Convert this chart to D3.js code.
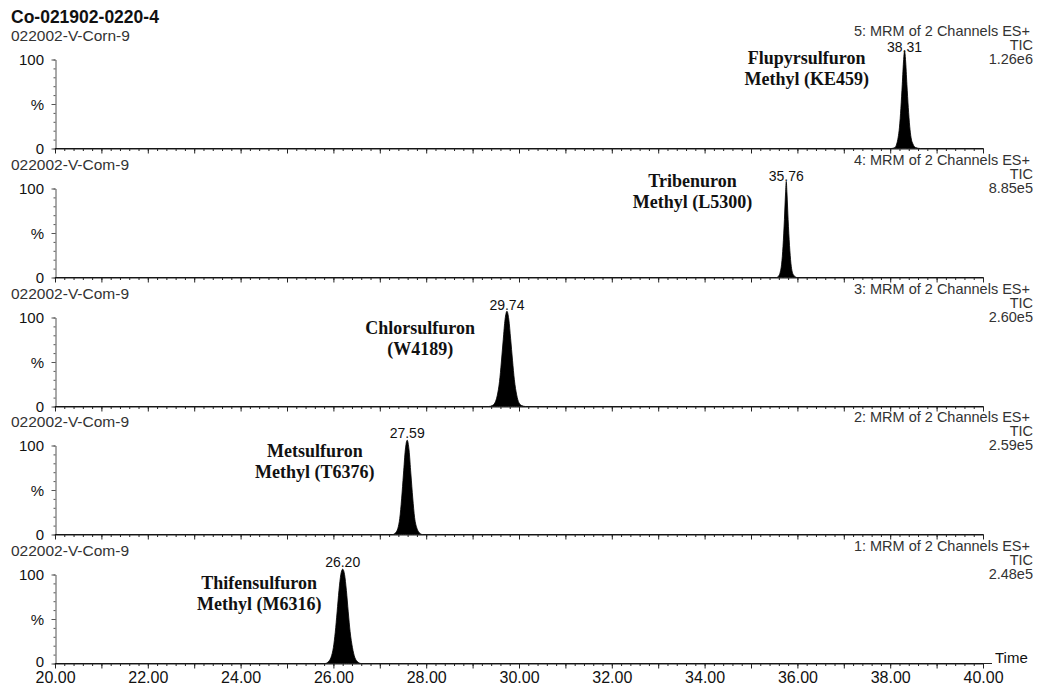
<!DOCTYPE html>
<html>
<head>
<meta charset="utf-8">
<script src="https://cdn.jsdelivr.net/npm/d3@7"></script>
<style>
  body { margin: 0; background: #fff; }
  svg { display: block; }
  text { font-family: "Liberation Sans", Arial, sans-serif; }
</style>
</head>
<body>
<svg id="chart"></svg>
<script>
// ---- data ----
const title = "Co-021902-0220-4";
const sampleNames = ["022002-V-Corn-9", "022002-V-Com-9", "022002-V-Com-9", "022002-V-Com-9", "022002-V-Com-9"];
const channelNames = ["5: MRM of 2 Channels ES+", "4: MRM of 2 Channels ES+", "3: MRM of 2 Channels ES+",
                      "2: MRM of 2 Channels ES+", "1: MRM of 2 Channels ES+"];
const ticIntensity = ["1.26e6", "8.85e5", "2.60e5", "2.59e5", "2.48e5"];
const peakTimes = [38.31, 35.76, 29.74, 27.59, 26.20];
const compoundLine1 = ["Flupyrsulfuron", "Tribenuron", "Chlorsulfuron", "Metsulfuron", "Thifensulfuron"];
const compoundLine2 = ["Methyl (KE459)", "Methyl (L5300)", "(W4189)", "Methyl (T6376)", "Methyl (M6316)"];
const xTickValues = [20, 22, 24, 26, 28, 30, 32, 34, 36, 38, 40];
const yLabelValues = [0, 50, 100];
const yLabelText = ["0", "%", "100"];

// traces: [time (min), relative intensity (%)]
const trace5 = [[20, 0], [38.02, 0], [38.10, 1], [38.14, 5], [38.17, 12], [38.20, 24], [38.23, 45], [38.26, 72],
  [38.29, 100], [38.31, 110], [38.33, 100], [38.36, 72], [38.39, 46], [38.42, 25], [38.45, 12], [38.49, 5],
  [38.55, 1], [38.65, 0], [40, 0]];
const trace4 = [[20, 0], [35.55, 0], [35.60, 2], [35.63, 6], [35.66, 15], [35.69, 35], [35.72, 65], [35.745, 95],
  [35.76, 108], [35.775, 95], [35.80, 65], [35.83, 36], [35.86, 16], [35.89, 6], [35.93, 2], [35.99, 0], [40, 0]];
const trace3 = [[20, 0], [29.35, 0], [29.42, 1], [29.48, 4], [29.53, 12], [29.58, 28], [29.62, 50], [29.66, 75],
  [29.70, 98], [29.74, 107], [29.78, 98], [29.82, 76], [29.86, 52], [29.90, 30], [29.95, 13], [30.00, 4],
  [30.06, 1], [30.14, 0], [40, 0]];
const trace2 = [[20, 0], [27.28, 0], [27.34, 2], [27.39, 7], [27.43, 18], [27.47, 40], [27.51, 68], [27.55, 95],
  [27.59, 106], [27.63, 95], [27.67, 68], [27.71, 41], [27.75, 19], [27.80, 7], [27.85, 2], [27.92, 0], [40, 0]];
const trace1 = [[20, 0], [25.82, 0], [25.89, 2], [25.95, 7], [26.00, 18], [26.04, 35], [26.08, 58], [26.12, 82],
  [26.16, 100], [26.20, 106], [26.24, 100], [26.28, 82], [26.32, 58], [26.36, 36], [26.41, 18], [26.46, 7],
  [26.52, 2], [26.60, 0], [40, 0]];
const traces = [trace5, trace4, trace3, trace2, trace1];

// compound annotation anchors, in time / % of each panel
const labelTimes = [36.2, 33.74, 27.87, 25.6, 24.4];
const labelPct = [102, 108, 88, 94, 91];

// ---- layout ----
const W = 1039, H = 688;
const baseTop = 148, panelStep = 128.75, plotH = 89;
const ink = "#111", grey = "#333";

const svg = d3.select("#chart").attr("width", W).attr("height", H);
svg.append("rect").attr("width", W).attr("height", H).attr("fill", "#fff");

const x = d3.scaleLinear().domain([20, 40]).range([55, 983]);

svg.append("text")
  .attr("x", 11).attr("y", 17)
  .attr("dominant-baseline", "central")
  .attr("font-size", 17.5).attr("font-weight", "bold").attr("fill", ink)
  .text(title);

traces.forEach((trace, i) => {
  const b = Math.round(baseTop + i * panelStep) + 0.5;
  const y = d3.scaleLinear().domain([0, 100]).range([b, b - plotH]);
  const g = svg.append("g");
  const last = i === traces.length - 1;

  // headers
  g.append("text")
    .attr("x", 11).attr("y", b - 113)
    .attr("dominant-baseline", "central")
    .attr("font-size", 15.5).attr("fill", grey)
    .text(sampleNames[i]);
  const right = g.append("g").attr("text-anchor", "end").attr("fill", grey).attr("font-size", 14.5);
  right.append("text").attr("x", 1030).attr("y", b - 118).attr("dominant-baseline", "central").text(channelNames[i]);
  right.append("text").attr("x", 1033).attr("y", b - 104).attr("dominant-baseline", "central").text("TIC");
  right.append("text").attr("x", 1033).attr("y", b - 90).attr("dominant-baseline", "central").text(ticIntensity[i]);

  // y axis
  const yMinor = g.append("g").attr("transform", `translate(${x(20) + 0.5},0)`)
    .call(d3.axisLeft(y).tickValues(d3.range(0, 101, 10)).tickSize(2).tickSizeOuter(0).tickFormat(""));
  const yMajor = g.append("g").attr("transform", `translate(${x(20) + 0.5},0)`)
    .call(d3.axisLeft(y).tickValues(yLabelValues).tickSize(4).tickSizeOuter(0).tickFormat(""));
  [yMinor, yMajor].forEach(a => a.selectAll("path,line").attr("stroke", "#555"));
  yMajor.select(".domain").remove();

  g.selectAll(".ylab").data(yLabelValues).join("text")
    .attr("x", 44).attr("y", d => y(d) - (d === 0 && last ? 2 : 0))
    .attr("text-anchor", "end").attr("dominant-baseline", "central")
    .attr("font-size", 15).attr("fill", ink)
    .text((d, k) => yLabelText[k]);

  // trace (filled peak)
  const area = d3.area().x(d => x(d[0])).y0(b).y1(d => y(d[1])).curve(d3.curveMonotoneX);
  g.append("path").datum(trace).attr("d", area)
    .attr("fill", "#000").attr("stroke", "#000").attr("stroke-width", 0.8);

  // x axis: 1 min majors, 0.2 min minors, ticks hanging below the line
  const xMinor = g.append("g").attr("transform", `translate(0,${b})`)
    .call(d3.axisBottom(x).tickValues(d3.range(20, 40.001, 0.2)).tickSize(2.5).tickSizeOuter(0).tickFormat(""));
  const xMajor = g.append("g").attr("transform", `translate(0,${b})`)
    .call(d3.axisBottom(x).tickValues(d3.range(20, 40.001, 1)).tickSize(5).tickSizeOuter(0).tickFormat(""));
  xMajor.select(".domain").remove();
  [xMinor, xMajor].forEach(a => a.selectAll("path,line").attr("stroke", "#222"));

  if (last) {
    g.append("line").attr("x1", x(40)).attr("x2", x(40) + 9).attr("y1", b).attr("y2", b).attr("stroke", "#222");
    g.append("text").attr("x", x(40) + 12).attr("y", b - 6)
      .attr("dominant-baseline", "central").attr("font-size", 15).attr("fill", ink).text("Time");
    const lab = g.append("g").attr("transform", `translate(0,${b})`)
      .call(d3.axisBottom(x).tickValues(xTickValues).tickSize(0).tickPadding(8).tickFormat(d3.format(".2f")));
    lab.select(".domain").remove();
    lab.selectAll("text").attr("font-size", 16).attr("fill", ink)
      .attr("font-family", "'Liberation Sans', Arial, sans-serif");
  }

  // peak apex label
  g.append("text")
    .attr("x", x(peakTimes[i])).attr("y", b - 102)
    .attr("text-anchor", "middle").attr("dominant-baseline", "central")
    .attr("font-size", 14).attr("fill", ink)
    .text(peakTimes[i].toFixed(2));

  // compound name
  const nm = g.append("g")
    .attr("text-anchor", "middle")
    .attr("font-size", 18).attr("font-weight", "bold").attr("fill", ink);
  nm.append("text")
    .attr("x", x(labelTimes[i])).attr("y", y(labelPct[i]))
    .attr("dominant-baseline", "central")
    .style("font-family", "'Liberation Serif', 'Times New Roman', serif")
    .text(compoundLine1[i]);
  nm.append("text")
    .attr("x", x(labelTimes[i])).attr("y", y(labelPct[i]) + 21)
    .attr("dominant-baseline", "central")
    .style("font-family", "'Liberation Serif', 'Times New Roman', serif")
    .text(compoundLine2[i]);
});
</script>
</body>
</html>
